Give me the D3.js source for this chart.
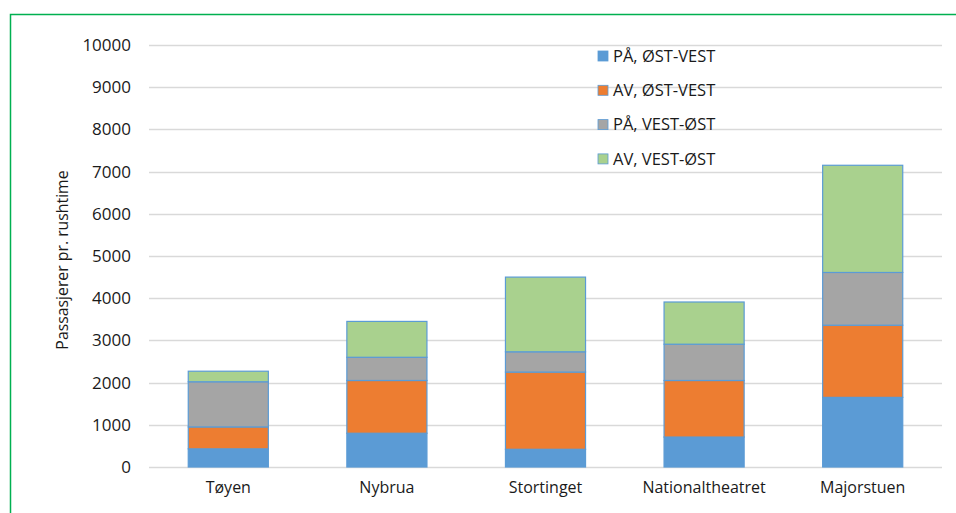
<!DOCTYPE html>
<html>
<head>
<meta charset="utf-8">
<script src="https://cdn.jsdelivr.net/npm/d3@7"></script>
<style>
  body { margin: 0; background: #fff; }
  svg text { font-family: "Open Sans", sans-serif; fill: #1a1a1a; }
</style>
</head>
<body>
<div id="chart"></div>
<script>
// stations along the x axis
const stations = ['Tøyen', 'Nybrua', 'Stortinget', 'Nationaltheatret', 'Majorstuen'];

// series, bottom to top
const seriesNames = ['PÅ, ØST-VEST', 'AV, ØST-VEST', 'PÅ, VEST-ØST', 'AV, VEST-ØST'];
const paOstVest = [430, 800, 420, 710, 1650];
const avOstVest = [520, 1250, 1830, 1340, 1710];
const paVestOst = [1070, 550, 480, 860, 1250];
const avVestOst = [250, 850, 1770, 1000, 2540];
const colors = ['#5b9bd5', '#ed7d31', '#a5a5a5', '#a9d18e'];

const yTicks = [0, 1000, 2000, 3000, 4000, 5000, 6000, 7000, 8000, 9000, 10000];

let width = 956, height = 513;
let margin = { top: 45, right: 14, bottom: 46, left: 149 };

let svg = d3.select('#chart').append('svg')
  .attr('width', width).attr('height', height);

/// green outer frame
svg.append('rect')
  .attr('x', 10.5).attr('y', 14.5)
  .attr('width', 960).attr('height', 520)
  .attr('fill', 'none').attr('stroke', '#00b050').attr('stroke-width', 1.5);

let table = stations.map(function(s, i) {
  return { station: s, s0: paOstVest[i], s1: avOstVest[i], s2: paVestOst[i], s3: avVestOst[i] };
});
let stack = d3.stack().keys(['s0', 's1', 's2', 's3'])(table);

let x = d3.scaleBand().domain(stations)
  .range([margin.left, width - margin.right]).paddingInner(0.495).paddingOuter(0.2475);
let y = d3.scaleLinear().domain([0, 10000]).range([height - margin.bottom, margin.top]);

/// gridlines
svg.append('g').selectAll('line').data(yTicks).enter().append('line')
  .attr('x1', margin.left).attr('x2', width - margin.right)
  .attr('y1', function(d) { return Math.round(y(d)) + 0.5; })
  .attr('y2', function(d) { return Math.round(y(d)) + 0.5; })
  .attr('stroke', '#d9d9d9').attr('stroke-width', 1.3);

/// y axis labels
let yAxis = svg.append('g')
  .attr('transform', 'translate(' + (margin.left - 18) + ',0)')
  .call(d3.axisLeft(y).tickValues(yTicks).tickSize(0).tickPadding(0).tickFormat(d3.format('d')));
yAxis.select('.domain').remove();
yAxis.selectAll('text').style('font-size', '17px').attr('fill', '#1a1a1a');

/// x axis labels
let xAxis = svg.append('g')
  .attr('transform', 'translate(0,' + (height - margin.bottom) + ')')
  .call(d3.axisBottom(x).tickSize(0).tickPadding(15));
xAxis.select('.domain').remove();
xAxis.selectAll('text').style('font-size', '16px').attr('fill', '#1a1a1a');

/// y axis title
svg.append('text')
  .attr('transform', 'translate(68,' + (y(5000) + 4) + ') rotate(-90)')
  .attr('text-anchor', 'middle')
  .style('font-size', '15.8px')
  .text('Passasjerer pr. rushtime');

/// stacked bars
svg.append('g').selectAll('g').data(stack).enter().append('g')
  .attr('fill', function(d, i) { return colors[i]; })
  .selectAll('rect').data(function(d) { return d; }).enter().append('rect')
  .attr('x', function(d) { return x(d.data.station); })
  .attr('y', function(d) { return y(d[1]); })
  .attr('width', x.bandwidth())
  .attr('height', function(d) { return y(d[0]) - y(d[1]); })
  .attr('stroke', '#5b9bd5').attr('stroke-width', 1.2);

/// legend
let legend = svg.append('g').attr('transform', 'translate(598,56)');
let items = legend.selectAll('g').data(seriesNames).enter().append('g')
  .attr('transform', function(d, i) { return 'translate(0,' + (i * 34.3) + ')'; });
items.append('rect')
  .attr('x', 0).attr('y', -5).attr('width', 10).attr('height', 10)
  .attr('fill', function(d, i) { return colors[i]; })
  .attr('stroke', '#5b9bd5').attr('stroke-width', 0.8);
items.append('text')
  .attr('x', 15).attr('dy', '0.35em')
  .style('font-size', '16.5px')
  .text(function(d) { return d; });
</script>
</body>
</html>
